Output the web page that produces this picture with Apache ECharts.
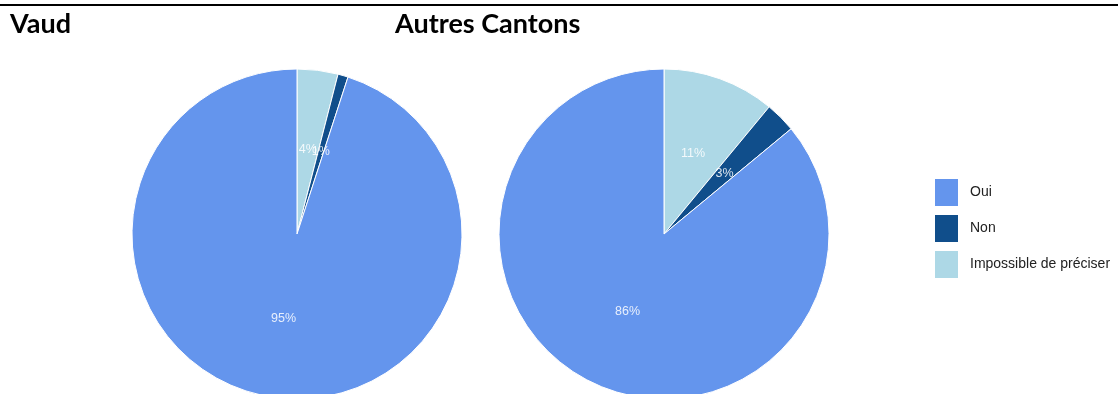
<!DOCTYPE html>
<html>
<head>
<meta charset="utf-8">
<script src="https://cdn.jsdelivr.net/npm/echarts@6/dist/echarts.min.js"></script>
<style>html,body{margin:0;padding:0;background:#fff}#c{width:1118px;height:394px}</style>
</head>
<body>
<div id="c"></div>
<script>
const categories = ['Impossible de préciser', 'Non', 'Oui'];
const legendOrder = ['Oui', 'Non', 'Impossible de préciser'];
const vaudValues = [4, 1, 95];
const autresValues = [11, 3, 86];
const colors = {'Oui': '#6495ED', 'Non': '#104E8B', 'Impossible de préciser': '#ADD8E6'};
const titles = ['Vaud', 'Autres Cantons'];

function mk(vals) {
  return categories.map((c, i) => ({name: c, value: vals[i], itemStyle: {color: colors[c]}}));
}
const pieBase = {
  type: 'pie',
  radius: 165,
  startAngle: 90,
  clockwise: true,
  animation: false,
  silent: true,
  avoidLabelOverlap: false,
  labelLayout: {hideOverlap: false},
  itemStyle: {borderColor: '#ffffff', borderWidth: 1},
  label: {show: true, position: 'inside', formatter: '{c}%', color: 'rgba(255,255,255,0.85)', fontSize: 12.5, fontFamily: 'Liberation Sans'},
  labelLine: {show: false},
  emphasis: {disabled: true}
};
const chart = echarts.init(document.getElementById('c'), null, {renderer: 'canvas'});
chart.setOption({
  backgroundColor: '#ffffff',
  animation: false,
  title: [
    {text: titles[0], left: 5, top: 6, textStyle: {fontFamily: 'Lato', fontWeight: 'bold', fontSize: 27, color: '#000'}},
    {text: titles[1], left: 390, top: 6, textStyle: {fontFamily: 'Lato', fontWeight: 'bold', fontSize: 27, color: '#000'}}
  ],
  legend: {
    data: legendOrder,
    orient: 'vertical',
    left: 928,
    top: 172,
    itemWidth: 25,
    itemHeight: 29,
    itemGap: 5,
    icon: 'rect',
    textStyle: {fontFamily: 'Liberation Sans', fontSize: 14, color: '#222', padding: [0, 0, 0, 6]},
    selectedMode: false
  },
  graphic: [{type: 'line', shape: {x1: 0, y1: 5, x2: 1118, y2: 5}, style: {stroke: '#000', lineWidth: 2}}],
  series: [
    Object.assign({}, pieBase, {name: titles[0], center: [297, 234], data: mk(vaudValues)}),
    Object.assign({}, pieBase, {name: titles[1], center: [664, 234], data: mk(autresValues)})
  ]
});
</script>
</body>
</html>
